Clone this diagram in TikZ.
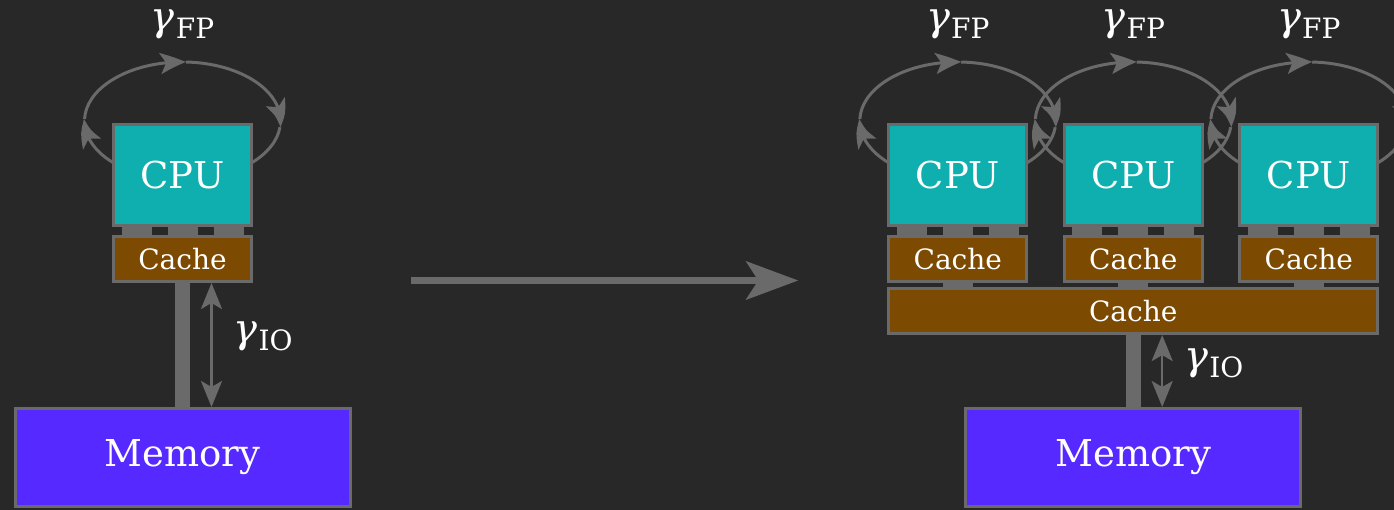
\documentclass[tikz,border=0pt]{standalone}
\usepackage{fontspec}
\setmainfont{DejaVu Serif}
\usetikzlibrary{arrows.meta,bending,calc}
\definecolor{bg}{HTML}{282828}
\definecolor{edge}{HTML}{6A6A6A}
\definecolor{cpuc}{HTML}{10AFAF}
\definecolor{cachec}{HTML}{7C4A00}
\definecolor{memc}{HTML}{5529FF}
% throughput symbol: italic gamma with a lowered subscript
\newcommand{\rate}[1]{{\fontsize{40}{40}\selectfont\itshape γ}\kern1pt\raisebox{-8pt}{\fontsize{28}{28}\selectfont #1}}
\pgfdeclarelayer{back}
\pgfsetlayers{back,main}
\begin{document}
\begin{tikzpicture}[x=1pt,y=1pt,
  box/.style={draw=edge,line width=3pt,inner sep=0pt,text=white},
  cpu/.style={box,fill=cpuc,minimum width=138pt,minimum height=101pt,font=\fontsize{37}{40}\selectfont},
  cache/.style={box,fill=cachec,minimum width=138pt,minimum height=45pt,font=\fontsize{28}{30}\selectfont},
  mem/.style={box,fill=memc,minimum width=335pt,minimum height=98pt,font=\fontsize{37}{40}\selectfont},
  bus/.style={draw=edge,line width=#1},
  fparc/.style={draw=edge,line width=3pt},
  tipped/.style={-{Stealth[length=26pt,width=21pt,inset=6pt,bend]}},
  io/.style={draw=edge,line width=2.5pt,
    {Stealth[length=26pt,width=21pt,inset=6pt]}-{Stealth[length=26pt,width=21pt,inset=6pt]}},
  rate/.style={text=white,inner sep=0pt},
  bigarrow/.style={draw=edge,line width=7.5pt,-{Stealth[length=52pt,width=38pt,inset=12pt]}}]
\useasboundingbox (0,0) rectangle (1394,510);
\clip (0,0) rectangle (1394,510);

% single core
\node[cpu]   (cpuL)   at (182.5,335)  {CPU};
\node[cache] (cacheL) at (182.5,251)  {Cache};
\node[mem]   (memL)   at (182.5,52.5) {Memory};

% three cores with a shared cache
\foreach \i/\x in {1/957.8,2/1133.3,3/1308.8}{
  \node[cpu]   (cpu\i)   at (\x,335) {CPU};
  \node[cache] (cache\i) at (\x,251) {Cache};
}
\node[cache,minimum width=488.7pt] (l2) at (1133.2,198.9) {Cache};
\node[mem] (memR) at (1133.3,52.5) {Memory};

% links between CPU and cache
\foreach \n in {L,1,2,3}{
  \foreach \dx in {-46,0,46}{
    \draw[bus=30pt] ([xshift=\dx]cpu\n.south) -- ([xshift=\dx]cache\n.north);
  }
}
\foreach \n in {1,2,3}{
  \draw[bus=30pt] (cache\n.south) -- (cache\n.south |- l2.north);
}

% memory buses
\draw[bus=15pt] (cacheL.south) -- (cacheL.south |- memL.north);
\draw[bus=15pt] (l2.south) -- (l2.south |- memR.north);

% I/O arrows and labels
\coordinate (ioLt) at ([xshift=29]cacheL.south);
\coordinate (ioLb) at (ioLt |- memL.north);
\coordinate (ioRt) at ([xshift=29]l2.south);
\coordinate (ioRb) at (ioRt |- memR.north);
\draw[io] (ioLt) -- (ioLb);
\draw[io] (ioRt) -- (ioRb);
\node[rate,anchor=base west] (gioL) at ($(ioLt)!.5!(ioLb)+(22,2)$) {\rate{IO}};
\node[rate,anchor=base west] (gioR) at ($(ioRt)!.5!(ioRb)+(22,2)$) {\rate{IO}};

% compute loops, behind the CPUs
\begin{pgfonlayer}{back}
\fill[bg] (0,0) rectangle (1394,510);
\foreach \n in {L,1,2,3}{
  \coordinate (o\n) at ([yshift=54]cpu\n.center);
  \draw[fparc,tipped] ([shift={(226:98 and 59)}]o\n) arc[start angle=226,end angle=178,x radius=98,y radius=59];
  \draw[fparc,tipped] ([shift={(178:98 and 59)}]o\n) arc[start angle=178,end angle=88,x radius=98,y radius=59];
  \draw[fparc,tipped] ([shift={(88:98 and 59)}]o\n) arc[start angle=88,end angle=-6,x radius=98,y radius=59];
  \draw[fparc] ([shift={(-6:98 and 59)}]o\n) arc[start angle=-6,end angle=-46,x radius=98,y radius=59];
}
\end{pgfonlayer}
\foreach \n in {L,1,2,3}{
  \node[rate,anchor=base] (gfp\n) at ([yshift=144.5]cpu\n.center) {\rate{FP}};
}

% transition arrow
\coordinate (gl) at (410.7,229.5);
\coordinate (gr) at (798.3,229.5);
\draw[bigarrow] (gl) -- (gr);
\end{tikzpicture}
\end{document}
